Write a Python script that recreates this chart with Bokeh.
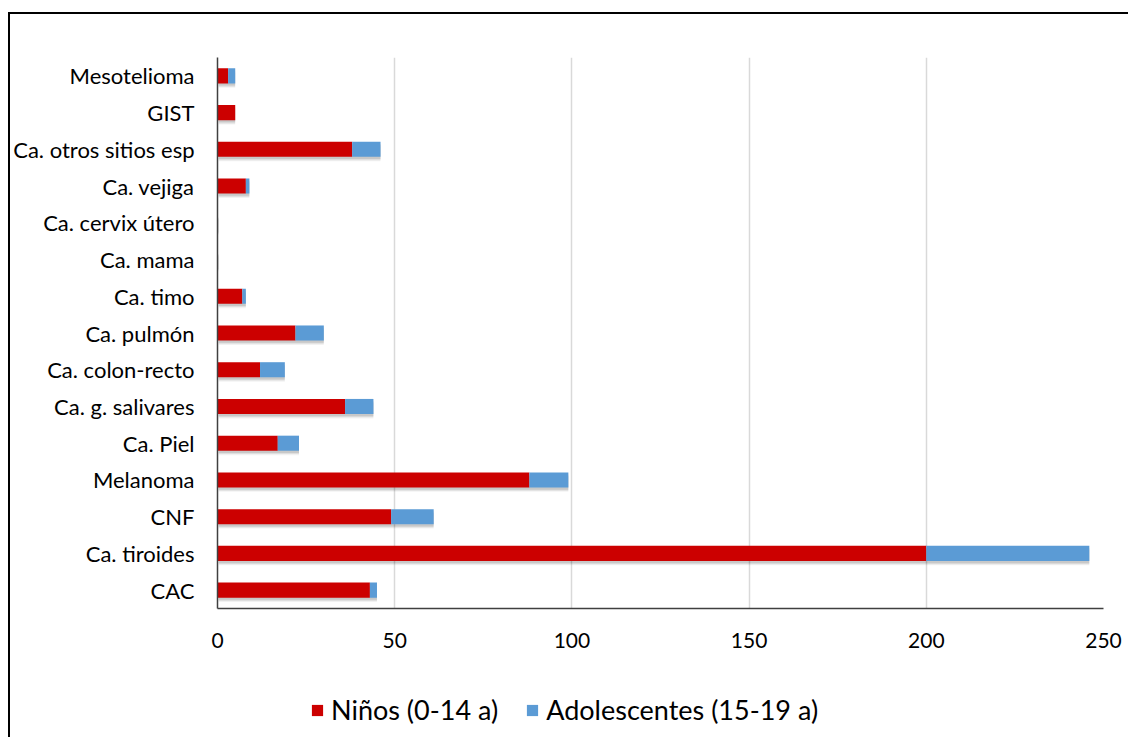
from bokeh.plotting import figure
from bokeh.layouts import column
from bokeh.models import FactorRange, Range1d, Legend, LegendItem, ColumnDataSource
from bokeh.transform import dodge
from bokeh.embed import file_html
from bokeh.resources import INLINE

# Tumour types, bottom to top
categories = [
    "CAC", "Ca. tiroides", "CNF", "Melanoma", "Ca. Piel", "Ca. g. salivares",
    "Ca. colon-recto", "Ca. pulmón", "Ca. timo", "Ca. mama", "Ca. cervix útero",
    "Ca. vejiga", "Ca. otros sitios esp", "GIST", "Mesotelioma",
]
ninos = [43, 200, 49, 88, 17, 36, 12, 22, 7, 0, 0, 8, 38, 5, 3]
adolescentes = [2, 46, 12, 11, 6, 8, 7, 8, 1, 0, 0, 1, 8, 0, 2]
x_ticks = [0, 50, 100, 150, 200, 250]

series_names = ["Niños (0-14 a)", "Adolescentes (15-19 a)"]
colors = ["#CC0000", "#5B9BD5"]
FONT = "Lato"

totals = [a + b for a, b in zip(ninos, adolescentes)]
src = ColumnDataSource(dict(cat=categories, ninos=ninos, adol=adolescentes, total=totals))

p = figure(
    width=1118, height=660,
    y_range=FactorRange(*categories), x_range=Range1d(0, 250),
    output_backend="svg", toolbar_location=None,
    min_border_left=207, min_border_top=43, min_border_right=25, min_border_bottom=66,
)

# soft drop shadow under each stacked bar
for off, a in [(0.06, 0.10), (0.09, 0.08), (0.12, 0.05)]:
    p.hbar(y=dodge("cat", -off, range=p.y_range), left=0.3, right="total", height=0.41,
           source=src, fill_color="black", fill_alpha=a, line_color=None)

p.hbar_stack(["ninos", "adol"], y="cat", height=0.41, color=colors,
             line_color=None, source=src)

p.outline_line_color = None
p.background_fill_color = "white"
p.border_fill_color = "white"

p.ygrid.grid_line_color = None
p.xgrid.grid_line_color = "#D9D9D9"
p.xgrid.grid_line_width = 1.5
p.xgrid.ticker = x_ticks

p.xaxis.ticker = x_ticks
p.xaxis.axis_line_color = "#404040"
p.xaxis.axis_line_width = 1.5
p.xaxis.major_tick_line_color = None
p.xaxis.minor_tick_line_color = None
p.xaxis.major_label_text_font = FONT
p.xaxis.major_label_text_font_size = "21px"
p.xaxis.major_label_text_color = "#000000"
p.xaxis.major_label_standoff = 18

p.yaxis.axis_line_color = "#404040"
p.yaxis.axis_line_width = 1.5
p.yaxis.major_tick_line_color = None
p.yaxis.minor_tick_line_color = None
p.yaxis.major_label_text_font = FONT
p.yaxis.major_label_text_font_size = "22px"
p.yaxis.major_label_text_color = "#000000"
p.yaxis.major_label_standoff = 17

# Legend strip under the chart (its frame lines up with the chart's frame)
leg = figure(width=1118, height=66, x_range=Range1d(0, 1), y_range=Range1d(0, 1),
             output_backend="svg", toolbar_location=None,
             min_border_top=0, min_border_bottom=0)
leg.axis.visible = False
leg.grid.visible = False
leg.outline_line_color = None
leg.border_fill_color = "white"
offscreen = ColumnDataSource(dict(l=[-10], r=[-9], b=[-10], t=[-9]))
swatches = [leg.quad(left="l", right="r", bottom="b", top="t", fill_color=c,
                     line_color=None, source=offscreen)
            for c in colors]

legend = Legend(
    items=[LegendItem(label=series_names[i], renderers=[swatches[i]]) for i in range(2)],
    orientation="horizontal", location=(93, 14),
    label_text_font=FONT, label_text_font_size="27px", label_text_color="#000000",
    glyph_width=14, glyph_height=14, label_standoff=7, spacing=27,
    border_line_color=None, background_fill_alpha=0, margin=0, padding=0,
)
leg.add_layout(legend, "center")

page = column(p, leg, spacing=0)
page.styles = {"margin-left": "8px", "margin-top": "12px",
               "border-top": "2px solid #000", "border-left": "2px solid #000"}

open("out.html", "w").write(file_html(page, INLINE))
